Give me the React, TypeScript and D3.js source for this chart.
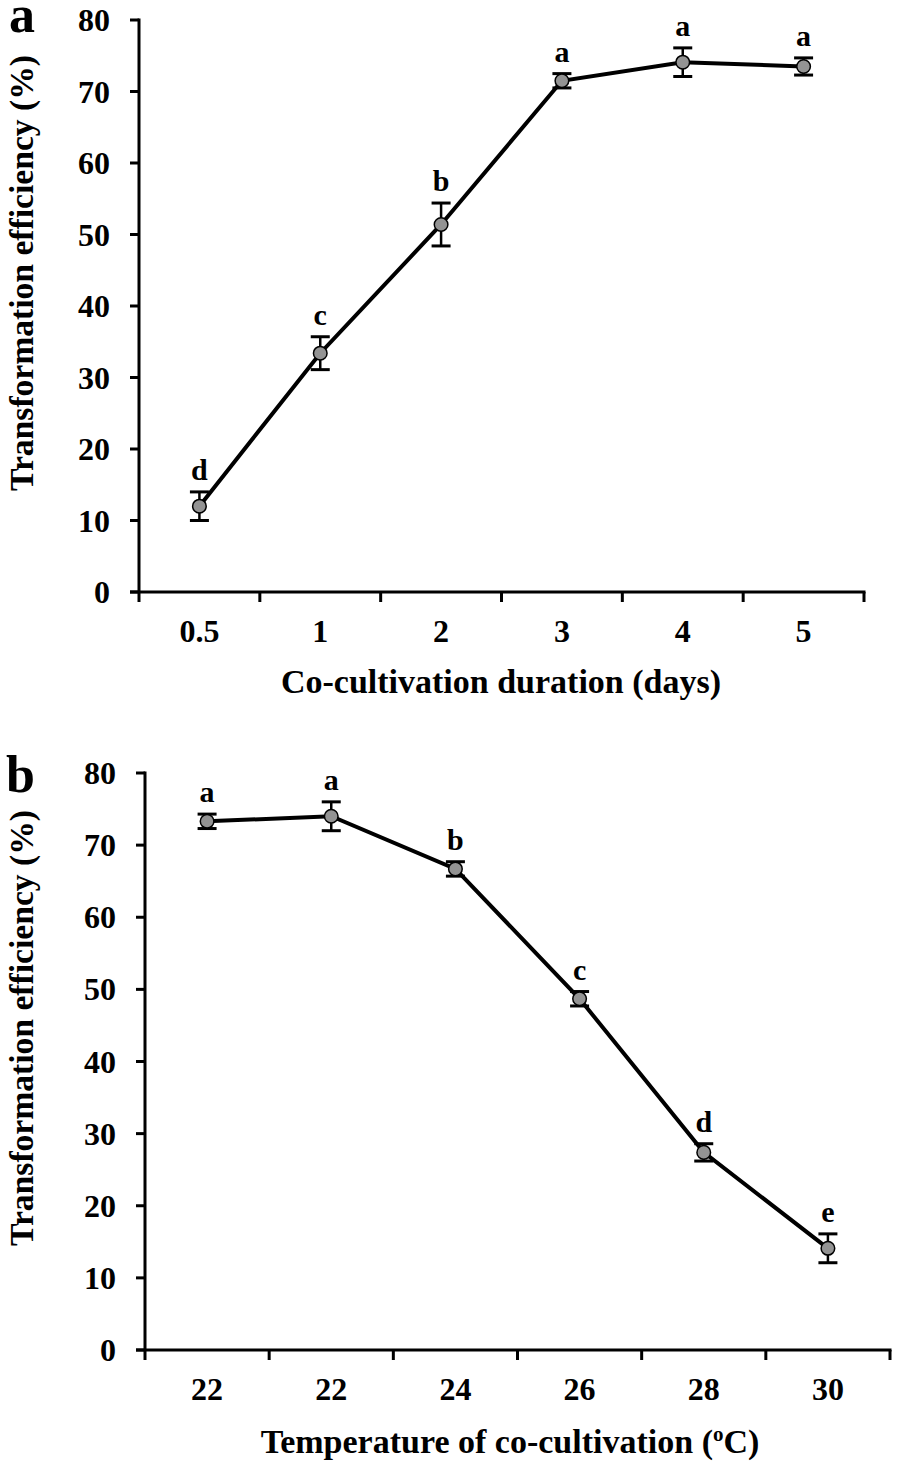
import React from "react";
import * as d3 from "d3";

const durationCats = ["0.5", "1", "2", "3", "4", "5"];
const durationMeans = [12.0, 33.4, 51.4, 71.5, 74.1, 73.5];
const durationErr = [2.0, 2.3, 3.0, 1.0, 2.0, 1.2];
const durationLetters = ["d", "c", "b", "a", "a", "a"];

const tempCats = ["22", "22 ", "24", "26", "28", "30"];
const tempLabels = ["22", "22", "24", "26", "28", "30"];
const tempMeans = [73.3, 74.0, 66.7, 48.7, 27.4, 14.1];
const tempErr = [1.0, 2.0, 1.0, 1.0, 1.2, 2.0];
const tempLetters = ["a", "a", "b", "c", "d", "e"];

const yTicks = [0, 10, 20, 30, 40, 50, 60, 70, 80];

const FONT = "'Liberation Serif', 'Times New Roman', serif";

type PanelProps = {
  cats: string[];
  labels: string[];
  means: number[];
  errs: number[];
  letters: string[];
  x0: number;
  x1: number;
  yTop: number;
  yBottom: number;
  panelLetter: string;
  panelLetterX: number;
  panelLetterY: number;
  yTitleCenter: number;
  xTitle: React.ReactNode;
  xTitleX: number;
  xTitleY: number;
};

function Panel(p: PanelProps) {
  const x = d3.scaleBand<string>().domain(p.cats).range([p.x0, p.x1]).padding(0);
  const y = d3.scaleLinear().domain([0, 80]).range([p.yBottom, p.yTop]);
  const cx = (c: string) => (x(c) as number) + x.bandwidth() / 2;
  const line = d3
    .line<number>()
    .x((_, i) => cx(p.cats[i]))
    .y((d) => y(d));
  const bounds = p.cats.map((c) => x(c) as number).concat([p.x1]);
  const capW = 9.5;
  return (
    <g>
      <text x={p.panelLetterX} y={p.panelLetterY} fontFamily={FONT} fontWeight="bold" fontSize={52}>
        {p.panelLetter}
      </text>
      <text
        transform={`translate(33,${p.yTitleCenter}) rotate(-90)`}
        textAnchor="middle"
        fontFamily={FONT}
        fontWeight="bold"
        fontSize={34}
        textLength={436}
        lengthAdjust="spacingAndGlyphs"
      >
        Transformation efficiency (%)
      </text>
      {/* y axis */}
      <line x1={p.x0} x2={p.x0} y1={y(80) - 1.5} y2={y(0)} stroke="#000" strokeWidth={3} />
      {yTicks.map((t) => (
        <g key={t}>
          <line x1={p.x0 - 9} x2={p.x0} y1={y(t)} y2={y(t)} stroke="#000" strokeWidth={3} />
          <text
            x={p.x0 - 29}
            y={y(t) + 11}
            textAnchor="end"
            fontFamily={FONT}
            fontWeight="bold"
            fontSize={32}
          >
            {t}
          </text>
        </g>
      ))}
      {/* x axis */}
      <line x1={p.x0 - 9} x2={p.x1 + 1.5} y1={y(0)} y2={y(0)} stroke="#000" strokeWidth={3} />
      {bounds.map((b, i) => (
        <line key={i} x1={b} x2={b} y1={y(0)} y2={y(0) + 10} stroke="#000" strokeWidth={3} />
      ))}
      {p.cats.map((c, i) => (
        <text
          key={c}
          x={cx(c)}
          y={y(0) + 50}
          textAnchor="middle"
          fontFamily={FONT}
          fontWeight="bold"
          fontSize={32}
        >
          {p.labels[i]}
        </text>
      ))}
      <text
        x={p.xTitleX}
        y={p.xTitleY}
        textAnchor="middle"
        fontFamily={FONT}
        fontWeight="bold"
        fontSize={34}
      >
        {p.xTitle}
      </text>
      {/* line */}
      <path d={line(p.means) || ""} fill="none" stroke="#000" strokeWidth={4} />
      {/* error bars */}
      {p.means.map((m, i) => {
        const xx = cx(p.cats[i]);
        const top = y(m + p.errs[i]);
        const bot = y(m - p.errs[i]);
        return (
          <g key={i}>
            <line x1={xx} x2={xx} y1={top} y2={bot} stroke="#000" strokeWidth={2.5} />
            <line x1={xx - capW} x2={xx + capW} y1={top} y2={top} stroke="#000" strokeWidth={3} />
            <line x1={xx - capW} x2={xx + capW} y1={bot} y2={bot} stroke="#000" strokeWidth={3} />
            <circle cx={xx} cy={y(m)} r={6.8} fill="#939393" stroke="#000" strokeWidth={1.5} />
            <text
              x={xx}
              y={top - 12}
              textAnchor="middle"
              fontFamily={FONT}
              fontWeight="bold"
              fontSize={30}
            >
              {p.letters[i]}
            </text>
          </g>
        );
      })}
    </g>
  );
}

export default function App() {
  return (
    <svg width={898} height={1463} style={{ display: "block", position: "absolute", left: 0, top: 0 }}>
      <rect width={898} height={1463} fill="#fff" />
      <Panel
        cats={durationCats}
        labels={durationCats}
        means={durationMeans}
        errs={durationErr}
        letters={durationLetters}
        x0={139}
        x1={864}
        yTop={20}
        yBottom={592}
        panelLetter="a"
        panelLetterX={9}
        panelLetterY={32}
        yTitleCenter={273}
        xTitle="Co-cultivation duration (days)"
        xTitleX={501}
        xTitleY={693}
      />
      <Panel
        cats={tempCats}
        labels={tempLabels}
        means={tempMeans}
        errs={tempErr}
        letters={tempLetters}
        x0={145}
        x1={890}
        yTop={773}
        yBottom={1350}
        panelLetter="b"
        panelLetterX={6}
        panelLetterY={792}
        yTitleCenter={1028}
        xTitle={
          <>
            Temperature of co-cultivation (
            <tspan dy={-12} fontSize={21}>
              o
            </tspan>
            <tspan dy={12}>C)</tspan>
          </>
        }
        xTitleX={510}
        xTitleY={1453}
      />
    </svg>
  );
}
